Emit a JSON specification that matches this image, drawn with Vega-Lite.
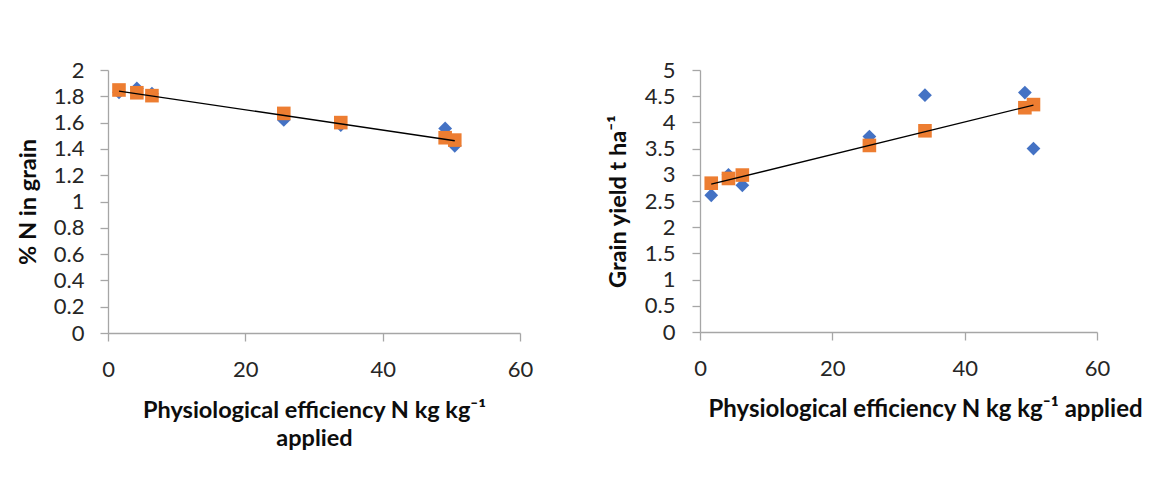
{
  "$schema": "https://vega.github.io/schema/vega-lite/v6.json",
  "background": "white",
  "padding": {"left": 16, "top": 59, "right": 5, "bottom": 5},
  "config": {
    "view": {"stroke": null},
    "font": "Lato",
    "axis": {
      "grid": false,
      "domainColor": "#A6A6A6",
      "tickColor": "#A6A6A6",
      "domainWidth": 1.3,
      "tickWidth": 1.3,
      "tickSize": 8,
      "labelFont": "Lato",
      "labelFontSize": 22,
      "labelColor": "#262626",
      "labelPadding": 16,
      "labelOverlap": false,
      "labelSeparation": 0,
      "labelFlush": false,
      "titleFont": "Lato",
      "titleFontSize": 23.5,
      "titleFontWeight": "bold",
      "titleColor": "#0D0D0D"
    }
  },
  "datasets": {
    "grainN": [
      {"pe": 1.6, "observed": 1.83, "fitted": 1.848},
      {"pe": 4.2, "observed": 1.86, "fitted": 1.827},
      {"pe": 6.4, "observed": 1.82, "fitted": 1.805},
      {"pe": 25.6, "observed": 1.62, "fitted": 1.67},
      {"pe": 33.9, "observed": 1.58, "fitted": 1.6},
      {"pe": 49.1, "observed": 1.556, "fitted": 1.485},
      {"pe": 50.5, "observed": 1.424, "fitted": 1.467}
    ],
    "grainN_trend": [
      {"pe": 1.6, "trend": 1.84},
      {"pe": 50.5, "trend": 1.462}
    ],
    "yield": [
      {"pe": 1.7, "observed": 2.61, "fitted": 2.84},
      {"pe": 4.3, "observed": 3.0, "fitted": 2.93},
      {"pe": 6.4, "observed": 2.8, "fitted": 2.995},
      {"pe": 25.6, "observed": 3.73, "fitted": 3.56},
      {"pe": 34.0, "observed": 4.52, "fitted": 3.84},
      {"pe": 49.1, "observed": 4.57, "fitted": 4.28},
      {"pe": 50.4, "observed": 3.5, "fitted": 4.34}
    ],
    "yield_trend": [
      {"pe": 1.7, "trend": 2.82},
      {"pe": 50.4, "trend": 4.33}
    ]
  },
  "spacing": 73,
  "hconcat": [
    {
      "width": 412,
      "height": 263,
      "layer": [
        {
          "data": {"name": "grainN"},
          "mark": {"type": "point", "shape": "diamond", "filled": true, "size": 190, "opacity": 1, "color": "#4472C4"},
          "encoding": {
            "x": {"field": "pe", "type": "quantitative", "scale": {"domain": [0, 60], "nice": false, "zero": false},
              "axis": {"tickCount": 3, "labelOverlap": false, "title": ["Physiological  efficiency N kg kg⁻¹", "applied"], "titlePadding": 18, "titleLineHeight": 28, "labelPadding": 18}},
            "y": {"field": "observed", "type": "quantitative", "scale": {"domain": [0, 2], "nice": false},
              "axis": {"tickCount": 10, "labelOverlap": false, "format": "~g", "title": "% N  in grain", "titlePadding": 13}}
          }
        },
        {
          "data": {"name": "grainN"},
          "mark": {"type": "point", "shape": "square", "filled": true, "size": 185, "opacity": 1, "color": "#ED7D31"},
          "encoding": {
            "x": {"field": "pe", "type": "quantitative"},
            "y": {"field": "fitted", "type": "quantitative"}
          }
        },
        {
          "data": {"name": "grainN_trend"},
          "mark": {"type": "line", "color": "#000000", "strokeWidth": 1.3},
          "encoding": {
            "x": {"field": "pe", "type": "quantitative"},
            "y": {"field": "trend", "type": "quantitative"}
          }
        }
      ]
    },
    {
      "width": 397,
      "height": 262,
      "layer": [
        {
          "data": {"name": "yield"},
          "mark": {"type": "point", "shape": "diamond", "filled": true, "size": 190, "opacity": 1, "color": "#4472C4"},
          "encoding": {
            "x": {"field": "pe", "type": "quantitative", "scale": {"domain": [0, 60], "nice": false, "zero": false},
              "axis": {"tickCount": 3, "labelOverlap": false, "title": "Physiological  efficiency N kg kg⁻¹ applied", "titleFontSize": 24, "titlePadding": 18, "titleAnchor": "start", "titleX": 8, "labelPadding": 18}},
            "y": {"field": "observed", "type": "quantitative", "scale": {"domain": [0, 5], "nice": false},
              "axis": {"tickCount": 10, "labelOverlap": false, "format": "~g", "title": "Grain yield t ha⁻¹", "titlePadding": 14, "labelPadding": 17}}
          }
        },
        {
          "data": {"name": "yield"},
          "mark": {"type": "point", "shape": "square", "filled": true, "size": 185, "opacity": 1, "color": "#ED7D31"},
          "encoding": {
            "x": {"field": "pe", "type": "quantitative"},
            "y": {"field": "fitted", "type": "quantitative"}
          }
        },
        {
          "data": {"name": "yield_trend"},
          "mark": {"type": "line", "color": "#000000", "strokeWidth": 1.3},
          "encoding": {
            "x": {"field": "pe", "type": "quantitative"},
            "y": {"field": "trend", "type": "quantitative"}
          }
        }
      ]
    }
  ]
}
